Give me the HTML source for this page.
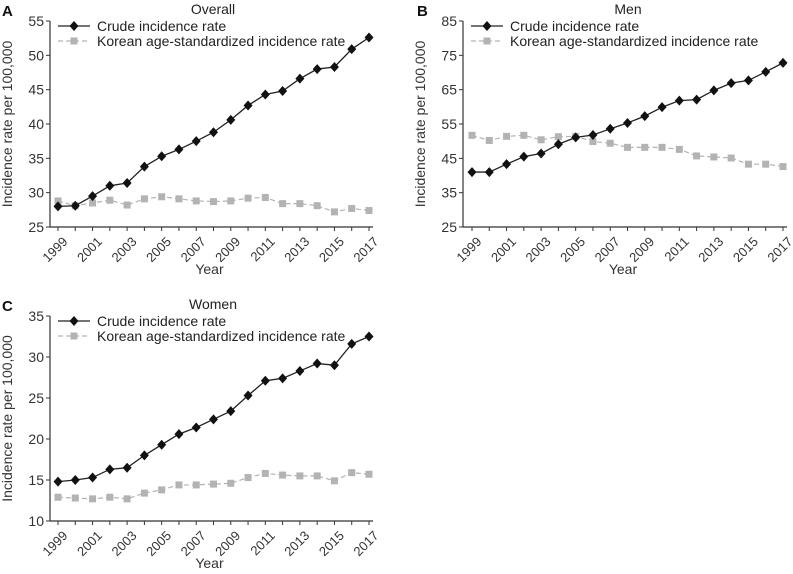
<!DOCTYPE html>
<html><head><meta charset="utf-8"><style>
body{margin:0;background:#fff;}
svg{display:block;font-family:"Liberation Sans",Arial,sans-serif;}
</style></head><body>
<svg id="s" width="793" height="574"></svg>
<script>
const years=[1999,2000,2001,2002,2003,2004,2005,2006,2007,2008,2009,2010,2011,2012,2013,2014,2015,2016,2017];
const tickYears=[1999,2001,2003,2005,2007,2009,2011,2013,2015,2017];
const overallCrude=[28.0,28.1,29.5,31.0,31.4,33.8,35.3,36.3,37.5,38.8,40.6,42.7,44.3,44.8,46.6,48.0,48.3,50.9,52.6];
const overallStd=[28.8,28.1,28.5,28.9,28.2,29.1,29.4,29.1,28.8,28.7,28.8,29.2,29.3,28.4,28.4,28.1,27.2,27.7,27.4];
const menCrude=[41.0,41.0,43.3,45.5,46.4,49.1,51.1,51.8,53.6,55.3,57.3,59.9,61.8,62.1,64.8,66.9,67.7,70.2,72.8];
const menStd=[51.7,50.2,51.4,51.7,50.4,51.3,51.4,49.9,49.4,48.2,48.2,48.2,47.6,45.7,45.4,45.1,43.3,43.3,42.6];
const womenCrude=[14.8,15.0,15.3,16.3,16.5,18.0,19.3,20.6,21.4,22.4,23.4,25.3,27.1,27.4,28.3,29.2,29.0,31.6,32.5];
const womenStd=[12.9,12.8,12.7,12.9,12.7,13.4,13.8,14.4,14.4,14.5,14.6,15.3,15.8,15.6,15.5,15.5,14.9,15.9,15.7];
const overallTicks=[25,30,35,40,45,50,55];
const menTicks=[25,35,45,55,65,75,85];
const womenTicks=[10,15,20,25,30,35];

const NS="http://www.w3.org/2000/svg";
const svg=document.getElementById('s');
function mk(tag,attrs,parent,text){const e=document.createElementNS(NS,tag);for(const k in attrs)e.setAttribute(k,attrs[k]);if(text!==undefined)e.textContent=text;(parent||svg).appendChild(e);return e;}

function panel(o){
  const g=mk('g',{});
  
  
  const ymin=o.ticks[0],ymax=o.ticks[o.ticks.length-1];
  const X=v=>o.x0+(v-1999)/(2017-1999)*(o.x1-o.x0);
  const Y=v=>o.yb+(v-ymin)/(ymax-ymin)*(o.yt-o.yb);
  const ya=mk('line',{x1:o.ax,y1:o.yt,x2:o.ax,y2:o.yb,stroke:'#333','stroke-width':1.2},g);
  
  const xa=mk('line',{x1:o.ax,y1:o.yb,x2:o.x1+4,y2:o.yb,stroke:'#333','stroke-width':1.2},g);
  
  o.ticks.forEach(t=>{
    mk('line',{x1:o.ax-4,y1:Y(t),x2:o.ax,y2:Y(t),stroke:'#333'},g);
    const tl=mk('text',{x:o.ax-6,y:Y(t)+5,'text-anchor':'end','font-size':14,fill:'#333'},g,t);
    
  });
  years.forEach(yr=>{mk('line',{x1:X(yr),y1:o.yb,x2:X(yr),y2:o.yb+4,stroke:'#333'},g);});
  tickYears.forEach(yr=>{
    const tx=X(yr)+4,ty=o.yb+9;
    const tl=mk('text',{x:tx,y:ty,'text-anchor':'end','font-size':13,fill:'#333',transform:`rotate(-45 ${tx} ${ty}) translate(0 9)`},g,yr);
    
  });
  const stdPts=o.std.map((v,i)=>X(years[i])+','+Y(v)).join(' ');
  const sl=mk('polyline',{points:stdPts,fill:'none',stroke:'#b3b3b3','stroke-width':1.2,'stroke-dasharray':'5,3'},g);
  
  o.std.forEach((v,i)=>{const r=mk('rect',{x:X(years[i])-3.5,y:Y(v)-3.5,width:7,height:7,fill:'#b3b3b3'},g);
    });
  const crPts=o.crude.map((v,i)=>X(years[i])+','+Y(v)).join(' ');
  const cl=mk('polyline',{points:crPts,fill:'none',stroke:'#222','stroke-width':1.3},g);
  
  o.crude.forEach((v,i)=>{const cx=X(years[i]),cy=Y(v);
    const p=mk('polygon',{points:`${cx},${cy-5} ${cx+4.5},${cy} ${cx},${cy+5} ${cx-4.5},${cy}`,fill:'#111'},g);
    });
  const lx=o.ax+8,ly=o.yt+5;
  mk('line',{x1:lx,y1:ly,x2:lx+32,y2:ly,stroke:'#222','stroke-width':1.3},g);
  mk('polygon',{points:`${lx+16},${ly-5} ${lx+20.5},${ly} ${lx+16},${ly+5} ${lx+11.5},${ly}`,fill:'#111'},g);
  const l1=mk('text',{x:lx+39,y:ly+5,'font-size':14,fill:'#222'},g,'Crude incidence rate');
  
  mk('line',{x1:lx,y1:ly+15,x2:lx+32,y2:ly+15,stroke:'#b3b3b3','stroke-width':1.2,'stroke-dasharray':'5,3'},g);
  mk('rect',{x:lx+12.5,y:ly+11.5,width:7,height:7,fill:'#b3b3b3'},g);
  const l2=mk('text',{x:lx+39,y:ly+20,'font-size':14,fill:'#222'},g,'Korean age-standardized incidence rate');
  
  const t=mk('text',{x:o.tx,y:o.yt-7,'text-anchor':'middle','font-size':14,fill:'#222'},g,o.title);
  
  const L=mk('text',{x:o.lx,y:o.yt-5,'font-size':15,'font-weight':'bold',fill:'#111'},g,o.letter);
  
  const xt=mk('text',{x:(o.ax+o.x1)/2,y:o.yb+47,'text-anchor':'middle','font-size':14,fill:'#333'},g,'Year');
  
  const cy=(o.yt+o.yb)/2;
  const yt=mk('text',{x:o.ytx,y:cy,'text-anchor':'middle','font-size':14,fill:'#333',transform:`rotate(-90 ${o.ytx} ${cy})`},g,'Incidence rate per 100,000');
  
}
panel({key:'overall',title:'Overall',letter:'A',crude:overallCrude,std:overallStd,ticks:overallTicks,ax:50,x0:58,x1:369,yt:21,yb:227,tx:213,lx:2,ytx:12});
panel({key:'men',title:'Men',letter:'B',crude:menCrude,std:menStd,ticks:menTicks,ax:463,x0:472,x1:783,yt:21,yb:227,tx:628,lx:417,ytx:425});
panel({key:'women',title:'Women',letter:'C',crude:womenCrude,std:womenStd,ticks:womenTicks,ax:50,x0:58,x1:369,yt:316,yb:521,tx:213,lx:2,ytx:12});
</script>
</body></html>
